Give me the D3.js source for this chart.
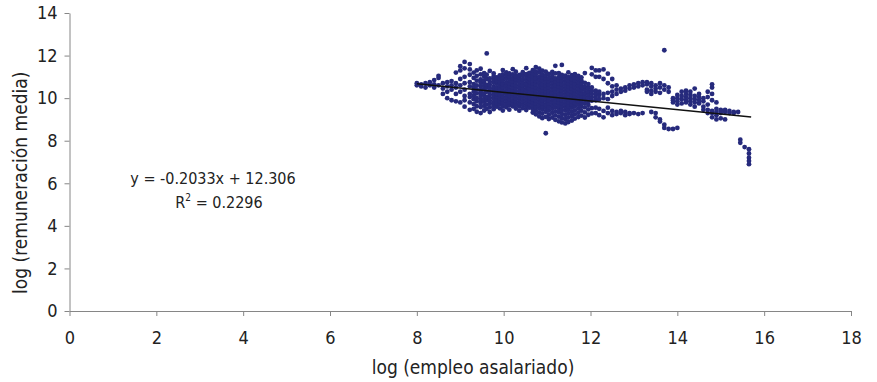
<!DOCTYPE html>
<html>
<head>
<meta charset="utf-8">
<script src="https://cdn.jsdelivr.net/npm/d3@7"></script>
<style>
  html, body { margin: 0; padding: 0; background: #fff; }
  svg { display: block; }
  text { font-family: "DejaVu Sans Condensed", "DejaVu Sans", sans-serif; fill: #222; }
</style>
</head>
<body>
<svg id="chart" width="877" height="382"></svg>
<script>
// ---- data ----
const xTicks = [0, 2, 4, 6, 8, 10, 12, 14, 16, 18];
const yTicks = [0, 2, 4, 6, 8, 10, 12, 14];
const xTitle = "log (empleo asalariado)";
const yTitle = "log (remuneración media)";
const slope = -0.2033;
const intercept = 12.306;
const r2Text = "0.2296";
const trendRange = [8.0, 15.7];

// scatter points, grouped by x column: [x, [y values]]
const columns = [
  [8.0, [10.6, 10.7]],
  [8.1, [10.55, 10.65]],
  [8.2, [10.7, 10.5]],
  [8.3, [10.6, 10.75]],
  [8.4, [10.5, 10.65, 10.85]],
  [8.5, [10.6, 10.95, 11.05]],
  [8.6, [10.45, 10.7, 10.2]],
  [8.7, [10.55, 10.0, 10.3, 10.75]],
  [8.8, [10.4, 9.9, 10.6, 10.8]],
  [8.9, [10.5, 9.85, 10.2, 10.7, 11.2]],
  [9.0, [10.3, 9.8, 10.6, 10.9, 11.3, 11.5]],
  [9.1, [10.1, 10.4, 10.7, 11.0, 11.4, 11.7, 9.9, 9.6]],
  [9.22, [9.45, 9.8, 10.05, 10.2, 10.55, 10.75, 11.1, 11.35, 11.6]],
  [9.31, [9.5, 9.72, 9.95, 10.12, 10.3, 10.48, 10.66, 10.95, 11.2]],
  [9.38, [9.36, 9.62, 9.85, 10.0, 10.22, 10.41, 10.6, 10.82, 11.05, 11.3]],
  [9.47, [9.3, 9.58, 9.77, 9.92, 10.1, 10.28, 10.37, 10.56, 10.74, 10.88, 11.12, 11.38]],
  [9.55, [9.42, 9.64, 9.83, 9.97, 10.14, 10.22, 10.43, 10.58, 10.71, 10.83, 11.02, 11.18]],
  [9.61, [12.1, 9.5, 9.7, 9.9, 10.05, 10.3, 10.5, 10.62, 10.9, 11.1]],
  [9.68, [9.35, 9.57, 9.74, 9.88, 10.02, 10.17, 10.33, 10.47, 10.63, 10.77, 10.93, 11.28]],
  [9.77, [9.48, 9.66, 9.81, 9.99, 10.12, 10.26, 10.42, 10.53, 10.72, 10.87, 11.03, 11.16]],
  [9.84, [9.6, 9.76, 9.93, 10.08, 10.2, 10.38, 10.51, 10.68, 10.81, 10.98]],
  [9.91, [9.52, 9.71, 9.86, 10.01, 10.16, 10.32, 10.46, 10.62, 10.76, 10.92, 11.07]],
  [9.98, [9.42, 9.63, 9.79, 9.94, 10.07, 10.23, 10.36, 10.52, 10.66, 10.83, 10.97, 11.12, 11.32]],
  [10.06, [9.57, 9.73, 9.88, 10.03, 10.18, 10.29, 10.44, 10.61, 10.73, 10.91, 11.06, 11.21]],
  [10.13, [9.46, 9.67, 9.82, 9.96, 10.11, 10.27, 10.41, 10.57, 10.7, 10.86, 11.01, 11.16]],
  [10.21, [9.62, 9.77, 9.91, 10.06, 10.22, 10.37, 10.49, 10.64, 10.79, 10.94, 11.11, 11.36]],
  [10.28, [9.51, 9.69, 9.84, 9.99, 10.14, 10.31, 10.46, 10.59, 10.76, 10.9, 11.04, 11.24]],
  [10.36, [9.41, 9.61, 9.76, 9.92, 10.04, 10.19, 10.34, 10.51, 10.66, 10.82, 10.96, 11.09]],
  [10.44, [9.53, 9.71, 9.86, 10.02, 10.16, 10.32, 10.44, 10.6, 10.74, 10.89, 11.07, 11.22]],
  [10.52, [9.44, 9.62, 9.78, 9.93, 10.08, 10.24, 10.38, 10.53, 10.67, 10.84, 10.99, 11.13, 11.41]],
  [10.59, [9.55, 9.72, 9.87, 10.01, 10.17, 10.33, 10.47, 10.62, 10.77, 10.91, 11.06, 11.19]],
  [10.67, [9.32, 9.49, 9.66, 9.81, 9.96, 10.12, 10.26, 10.41, 10.56, 10.71, 10.86, 11.02, 11.16, 11.31]],
  [10.74, [9.24, 9.42, 9.58, 9.74, 9.89, 10.04, 10.21, 10.36, 10.49, 10.66, 10.81, 10.94, 11.11, 11.26, 11.46]],
  [10.82, [9.14, 9.33, 9.52, 9.67, 9.82, 9.97, 10.11, 10.27, 10.42, 10.57, 10.72, 10.87, 11.01, 11.21, 11.38]],
  [10.89, [9.06, 9.27, 9.46, 9.61, 9.76, 9.91, 10.06, 10.22, 10.37, 10.52, 10.66, 10.82, 10.97, 11.12, 11.29]],
  [10.97, [8.35, 9.12, 9.36, 9.54, 9.69, 9.86, 10.01, 10.16, 10.31, 10.46, 10.61, 10.76, 10.92, 11.07, 11.24]],
  [11.04, [9.02, 9.22, 9.42, 9.59, 9.74, 9.88, 10.03, 10.19, 10.34, 10.49, 10.64, 10.79, 10.94, 11.14]],
  [11.12, [9.09, 9.31, 9.5, 9.66, 9.82, 9.97, 10.13, 10.28, 10.43, 10.58, 10.73, 10.88, 11.03, 11.23]],
  [11.19, [8.98, 9.19, 9.38, 9.57, 9.72, 9.87, 10.02, 10.17, 10.33, 10.48, 10.62, 10.78, 10.93, 11.16, 11.52]],
  [11.27, [8.91, 9.13, 9.33, 9.49, 9.64, 9.79, 9.94, 10.09, 10.24, 10.39, 10.54, 10.69, 10.84, 10.99, 11.18]],
  [11.34, [8.86, 9.06, 9.26, 9.44, 9.61, 9.76, 9.91, 10.06, 10.21, 10.36, 10.51, 10.66, 10.81, 10.96, 11.09, 11.56]],
  [11.42, [8.81, 9.01, 9.21, 9.41, 9.56, 9.71, 9.86, 10.01, 10.16, 10.31, 10.46, 10.61, 10.76, 10.91, 11.06]],
  [11.49, [8.88, 9.09, 9.29, 9.48, 9.63, 9.79, 9.94, 10.09, 10.24, 10.39, 10.54, 10.69, 10.84, 10.99, 11.21]],
  [11.57, [8.95, 9.16, 9.36, 9.55, 9.7, 9.85, 10.0, 10.15, 10.3, 10.45, 10.6, 10.75, 10.9, 11.08]],
  [11.64, [9.04, 9.24, 9.43, 9.62, 9.77, 9.92, 10.07, 10.22, 10.37, 10.52, 10.67, 10.82, 10.97, 11.13]],
  [11.72, [9.11, 9.31, 9.51, 9.69, 9.84, 9.99, 10.14, 10.29, 10.44, 10.59, 10.74, 10.89, 11.04]],
  [11.79, [9.18, 9.41, 9.6, 9.77, 9.92, 10.07, 10.22, 10.38, 10.53, 10.68, 10.83, 10.98]],
  [11.87, [9.09, 9.33, 9.57, 9.76, 9.93, 10.08, 10.23, 10.39, 10.54, 10.72, 11.18]],
  [11.95, [9.22, 9.47, 9.68, 9.86, 10.01, 10.17, 10.32, 10.48, 10.66]],
  [12.03, [9.28, 9.53, 9.88, 10.04, 10.19, 10.34, 10.5, 11.42, 11.12]],
  [12.12, [9.3, 9.55, 9.9, 10.05, 10.2, 10.35, 11.3, 11.0]],
  [12.2, [9.2, 9.5, 9.95, 10.15, 10.3, 11.3, 11.0]],
  [12.3, [9.4, 9.1, 10.0, 10.2, 10.9, 11.35]],
  [12.4, [9.3, 9.55, 9.95, 10.25, 10.7, 11.15]],
  [12.5, [9.2, 9.4, 10.1, 10.3, 10.55, 10.9]],
  [12.6, [9.35, 9.25, 10.2, 10.4, 10.6]],
  [12.7, [9.3, 9.4, 10.3, 10.45]],
  [12.8, [9.2, 9.35, 10.35, 10.5]],
  [12.9, [9.3, 9.25, 10.45, 10.6]],
  [13.0, [9.3, 10.5, 10.65]],
  [13.1, [9.25, 10.55, 10.7]],
  [13.2, [9.3, 10.6, 10.75]],
  [13.3, [10.65, 10.75, 10.4, 10.3]],
  [13.4, [10.7, 10.55, 10.35, 10.2, 9.35]],
  [13.5, [10.6, 10.45, 10.3, 9.3, 9.1]],
  [13.6, [10.7, 10.5, 10.25, 9.0, 8.9]],
  [13.7, [10.6, 10.4, 8.75, 8.6, 12.25]],
  [13.8, [10.5, 10.3, 8.55]],
  [13.9, [9.8, 9.9, 10.0, 8.55]],
  [14.0, [9.7, 9.85, 10.0, 10.15, 8.6]],
  [14.1, [9.75, 9.95, 10.1, 10.3]],
  [14.2, [9.8, 9.9, 10.05, 10.2, 10.35]],
  [14.3, [9.7, 9.85, 10.0, 10.15, 10.3]],
  [14.4, [9.6, 9.8, 9.95, 10.1, 10.45]],
  [14.5, [9.75, 9.9, 10.05, 10.2]],
  [14.6, [9.6, 9.45, 9.85, 10.0]],
  [14.7, [9.3, 9.45, 9.7, 10.05, 10.3]],
  [14.8, [9.1, 9.3, 9.4, 9.9, 10.2, 10.5, 10.65]],
  [14.9, [9.0, 9.2, 9.35, 9.5, 9.8]],
  [15.0, [9.05, 9.3, 9.45, 9.4]],
  [15.1, [9.0, 9.35, 9.45]],
  [15.2, [9.3, 9.4]],
  [15.3, [9.35, 9.3]],
  [15.4, [9.35]],
  [15.45, [8.05, 7.9]],
  [15.55, [7.7]],
  [15.65, [7.6, 7.4, 7.2, 7.05, 6.9]]
];

const points = [];
columns.forEach(([x, ys]) => ys.forEach(y => points.push({ x, y })));

// ---- chart ----
const svg = d3.select("#chart");
const x = d3.scaleLinear().domain([0, 18]).range([69.5, 851]);
const y = d3.scaleLinear().domain([0, 14]).range([311, 13]);
const axisColor = "#868686";
const font = '"DejaVu Sans Condensed", "DejaVu Sans", sans-serif';

const xAxis = svg.append("g")
  .attr("transform", `translate(0,${y(0)})`)
  .call(d3.axisBottom(x).tickValues(xTicks).tickFormat(d3.format("d")).tickSize(5).tickPadding(15).tickSizeOuter(0));
const yAxis = svg.append("g")
  .attr("transform", `translate(${x(0)},0)`)
  .call(d3.axisLeft(y).tickValues(yTicks).tickFormat(d3.format("d")).tickSize(5).tickPadding(7).tickSizeOuter(0));

[xAxis, yAxis].forEach(g => {
  g.selectAll("path.domain").attr("stroke", axisColor).attr("stroke-width", 1);
  g.selectAll(".tick line").attr("stroke", axisColor);
  g.selectAll(".tick text").attr("font-size", 18).attr("font-family", font).attr("fill", "#222");
});

// points
svg.append("g").selectAll("circle").data(points).join("circle")
  .attr("cx", d => x(d.x)).attr("cy", d => y(d.y)).attr("r", 2.4)
  .attr("fill", "#262a7c");

// trend line
svg.append("line")
  .attr("x1", x(trendRange[0])).attr("y1", y(slope * trendRange[0] + intercept))
  .attr("x2", x(trendRange[1])).attr("y2", y(slope * trendRange[1] + intercept))
  .attr("stroke", "#111").attr("stroke-width", 1.6);

// equation
svg.append("text").attr("x", 213).attr("y", 184).attr("text-anchor", "middle")
  .attr("font-size", 16)
  .text(`y = ${slope}x + ${intercept}`);
const r2 = svg.append("text").attr("x", 219).attr("y", 208).attr("text-anchor", "middle")
  .attr("font-size", 16);
r2.append("tspan").text("R");
r2.append("tspan").attr("font-size", 10).attr("dy", -7).text("2");
r2.append("tspan").attr("dy", 7).text(` = ${r2Text}`);

// axis titles
svg.append("text").attr("x", 473).attr("y", 374).attr("text-anchor", "middle")
  .attr("font-size", 19).text(xTitle);

svg.append("clipPath").attr("id", "ytclip").append("rect")
  .attr("x", 0).attr("y", 53).attr("width", 45).attr("height", 300);
svg.append("g").attr("clip-path", "url(#ytclip)")
  .append("text")
  .attr("transform", "translate(27,294) rotate(-90)")
  .attr("text-anchor", "start").attr("font-size", 19).text(yTitle);
</script>
</body>
</html>
